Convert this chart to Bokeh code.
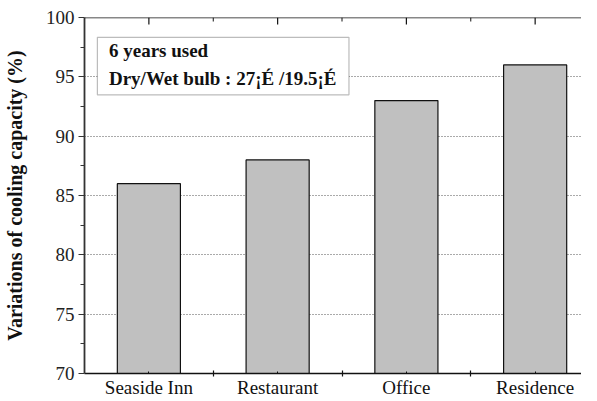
from bokeh.plotting import figure
from bokeh.models import (Range1d, LinearAxis, FixedTicker, Label, BoxAnnotation,
                          ColumnDataSource, Span)
from bokeh.embed import file_html
from bokeh.resources import INLINE

categories = ["Seaside Inn", "Restaurant", "Office", "Residence"]
values = [86, 88, 93, 96]
y_ticks = [70, 75, 80, 85, 90, 95, 100]
y_minor = [72.5, 77.5, 82.5, 87.5, 92.5, 97.5]

FONT = "Liberation Serif"

xs = [i + 0.5 for i in range(len(categories))]
bounds = [i for i in range(1, len(categories))]
src = ColumnDataSource(dict(x=xs, top=values, name=categories))

YMIN, YMAX = 70, 100
p = figure(width=581, height=400, output_backend="svg", toolbar_location=None,
           x_range=Range1d(0, 3.86), y_range=Range1d(YMIN, YMAX),
           x_axis_location=None, y_axis_location=None,
           min_border_left=79, min_border_right=0, min_border_top=17, min_border_bottom=0)
p.outline_line_color = None
p.background_fill_color = "white"
p.border_fill_color = "white"

# grid
p.xgrid.visible = False
p.ygrid.ticker = FixedTicker(ticks=[75, 80, 85, 90, 95])
p.ygrid.grid_line_color = "#555555"
p.ygrid.grid_line_dash = "1 2"
p.ygrid.grid_line_width = 1

# bars
p.vbar(x="x", top="top", bottom=0, width=0.49, source=src,
       fill_color="#c0c0c0", line_color="#111111", line_width=1.2)

# left axis
yax = LinearAxis(ticker=FixedTicker(ticks=y_ticks, minor_ticks=y_minor))
yax.axis_label = "Variations of cooling capacity (%)"
yax.axis_label_text_font = FONT
yax.axis_label_text_font_style = "bold"
yax.axis_label_text_font_size = "20px"
yax.axis_label_text_color = "#111111"
yax.axis_label_standoff = 17
yax.major_label_text_font = FONT
yax.major_label_text_font_size = "19px"
yax.major_label_text_color = "#222222"
yax.major_label_standoff = 4
yax.major_tick_in = 0
yax.major_tick_out = 6
yax.minor_tick_in = 0
yax.minor_tick_out = 4
yax.axis_line_width = 1.8
yax.axis_line_color = "#333333"
yax.major_tick_line_color = "#333333"
yax.minor_tick_line_color = "#333333"
yax.major_tick_line_width = 1.2
p.add_layout(yax, "left")

# bottom axis
xax = LinearAxis(ticker=FixedTicker(ticks=xs, minor_ticks=bounds))
xax.major_label_overrides = {x: c for x, c in zip(xs, categories)}
xax.major_label_text_font = FONT
xax.major_label_text_font_size = "19px"
xax.major_label_text_color = "#111111"
xax.major_label_standoff = 0
xax.major_tick_in = 2
xax.major_tick_out = 0
xax.minor_tick_in = 3
xax.minor_tick_out = 3
xax.axis_line_width = 1.6
xax.axis_line_color = "#111111"
xax.major_tick_line_color = "#111111"
xax.minor_tick_line_color = "#111111"
xax.minor_tick_line_width = 1.2
p.add_layout(xax, "below")

# top frame line and inward ticks
p.add_layout(Span(location=YMAX, dimension="width", line_color="#111111", line_width=1.6))
px_per_unit = 355 / (YMAX - YMIN)
p.segment(x0=xs, x1=xs, y0=[YMAX] * len(xs), y1=[YMAX - 7 / px_per_unit] * len(xs),
          line_color="#111111", line_width=1.2)
p.segment(x0=bounds, x1=bounds, y0=[YMAX] * len(bounds),
          y1=[YMAX - 4 / px_per_unit] * len(bounds), line_color="#111111", line_width=1)

# annotation box
p.add_layout(BoxAnnotation(left=0.1, right=2.054, bottom=93.48, top=98.33,
                           fill_color="white", fill_alpha=1.0,
                           line_color="#222222", line_width=1.2))
p.add_layout(Label(x=0.19, y=97.2, text="6 years used", text_font=FONT,
                   text_font_style="bold", text_font_size="19px",
                   text_color="#111111", text_baseline="middle"))
p.add_layout(Label(x=0.19, y=94.85, text="Dry/Wet bulb : 27¡É /19.5¡É", text_font=FONT,
                   text_font_style="bold", text_font_size="19px",
                   text_color="#111111", text_baseline="middle"))

open("out.html", "w").write(file_html(p, INLINE))
